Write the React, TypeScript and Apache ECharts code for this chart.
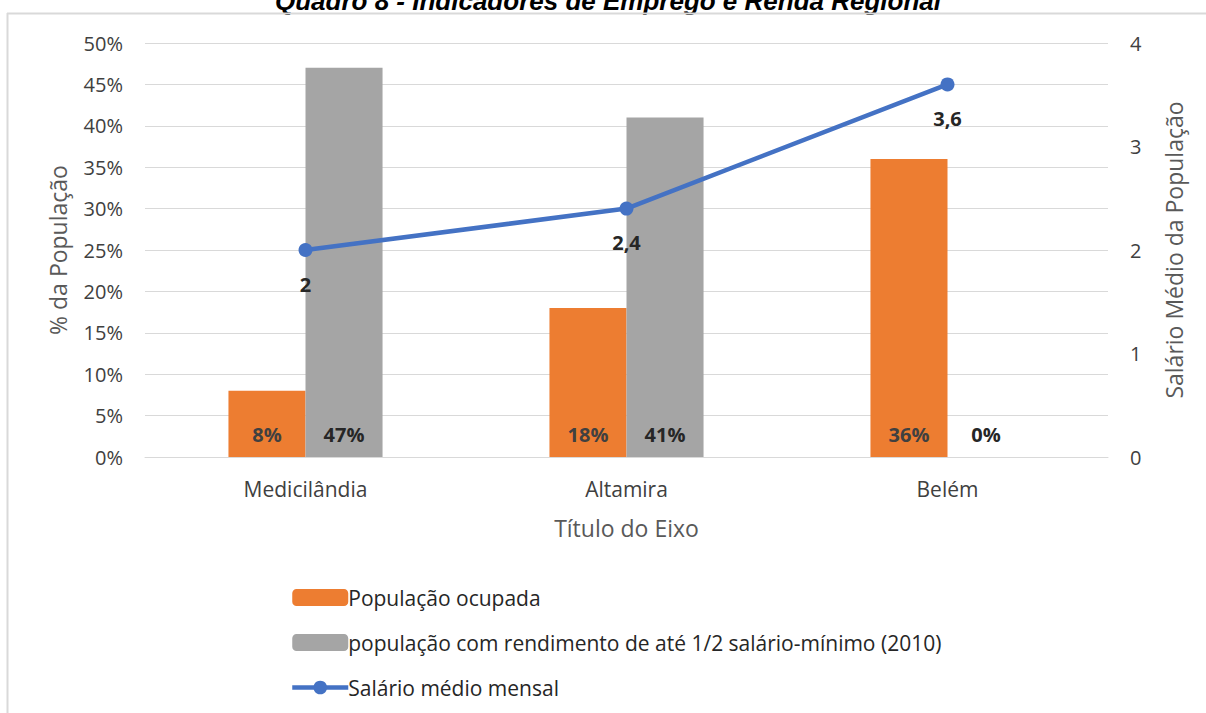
import React, { useEffect, useRef } from "react";
import * as echarts from "echarts";

const categories = ["Medicilândia", "Altamira", "Belém"];
const populacaoOcupada = [8, 18, 36];
const populacaoRendimento = [47, 41, 0];
const salarioMedio = [2, 2.4, 3.6];
const leftTicks = [0, 5, 10, 15, 20, 25, 30, 35, 40, 45, 50];

const FONT = "'Open Sans', 'Noto Sans', sans-serif";

export default function App() {
  const ref = useRef<HTMLDivElement>(null);
  useEffect(() => {
    if (!ref.current) return;
    const chart = echarts.init(ref.current, null, { renderer: "svg" });
    chart.setOption({
      animation: false,
      backgroundColor: "#ffffff",
      textStyle: { fontFamily: FONT },
      title: {
        text: "Quadro 8 - Indicadores de Emprego e Renda Regional",
        left: 270,
        top: -17,
        textStyle: {
          fontFamily: "'Liberation Sans', Arial, sans-serif",
          fontWeight: "bold",
          fontStyle: "italic",
          fontSize: 26,
          color: "#000000",
        },
      },
      graphic: [
        { type: "line", shape: { x1: 7, y1: 13.5, x2: 1206, y2: 13.5 }, style: { stroke: "#d9d9d9", lineWidth: 2 }, z: 10 },
        { type: "line", shape: { x1: 7.5, y1: 13, x2: 7.5, y2: 713 }, style: { stroke: "#d9d9d9", lineWidth: 2 }, z: 10 },
      ],
      grid: { left: 145, right: 98, top: 43, bottom: 256, containLabel: false },
      legend: {
        orient: "vertical",
        left: 285,
        top: 582,
        itemGap: 24,
        itemWidth: 56,
        itemHeight: 17,
        textStyle: { fontFamily: FONT, fontSize: 21, color: "#262626", padding: [0, 0, 0, -5] },
        data: [
          { name: "População ocupada" },
          { name: "população com rendimento de até 1/2 salário-mínimo (2010)" },
          { name: "Salário médio mensal", lineStyle: { width: 4.5 }, itemStyle: { color: "#4472C4" } },
        ],
      },
      xAxis: {
        type: "category",
        data: categories,
        name: "Título do Eixo",
        nameLocation: "middle",
        nameGap: 59,
        nameTextStyle: { fontFamily: FONT, fontSize: 23, color: "#595959" },
        axisLine: { lineStyle: { color: "#d9d9d9", width: 1 } },
        axisTick: { show: false },
        axisLabel: { fontFamily: FONT, fontSize: 21, color: "#404040", margin: 21 },
      },
      yAxis: [
        {
          type: "value",
          min: leftTicks[0],
          max: leftTicks[leftTicks.length - 1],
          interval: 5,
          name: "% da População",
          nameLocation: "middle",
          nameGap: 76,
          nameTextStyle: { fontFamily: FONT, fontSize: 23, color: "#595959" },
          axisLine: { show: false },
          axisTick: { show: false },
          splitLine: { lineStyle: { color: "#d9d9d9", width: 1 } },
          axisLabel: { fontFamily: FONT, fontSize: 20, color: "#404040", margin: 22, formatter: "{value}%" },
        },
        {
          type: "value",
          min: 0,
          max: 4,
          interval: 1,
          name: "Salário Médio da População",
          nameLocation: "middle",
          nameGap: 54,
          nameTextStyle: { fontFamily: FONT, fontSize: 23, color: "#595959" },
          axisLine: { show: false },
          axisTick: { show: false },
          splitLine: { show: false },
          axisLabel: { fontFamily: FONT, fontSize: 20, color: "#404040", margin: 22 },
        },
      ],
      series: [
        {
          name: "População ocupada",
          type: "bar",
          data: populacaoOcupada,
          itemStyle: { color: "#ED7D31" },
          barGap: "0%",
          barCategoryGap: "52%",
          label: {
            show: true,
            position: "insideBottom",
            distance: 13,
            formatter: "{c}%",
            fontFamily: FONT,
            fontSize: 20,
            fontWeight: "bold",
            color: "#404040",
          },
        },
        {
          name: "população com rendimento de até 1/2 salário-mínimo (2010)",
          type: "bar",
          data: populacaoRendimento,
          itemStyle: { color: "#A5A5A5" },
          barGap: "0%",
          barCategoryGap: "52%",
          label: {
            show: true,
            position: "insideBottom",
            distance: 13,
            formatter: "{c}%",
            fontFamily: FONT,
            fontSize: 20,
            fontWeight: "bold",
            color: "#262626",
          },
        },
        {
          name: "Salário médio mensal",
          type: "line",
          yAxisIndex: 1,
          data: salarioMedio,
          symbol: "circle",
          symbolSize: 14,
          itemStyle: { color: "#4472C4" },
          lineStyle: { color: "#4472C4", width: 4.5 },
          label: {
            show: true,
            position: "bottom",
            distance: 17,
            formatter: (p: any) => String(p.value).replace(".", ","),
            fontFamily: FONT,
            fontSize: 20,
            fontWeight: "bold",
            color: "#262626",
          },
          z: 5,
        },
      ],
    });
    return () => chart.dispose();
  }, []);
  return <div ref={ref} style={{ position: "fixed", left: 0, top: 0, width: 1206, height: 713 }} />;
}
